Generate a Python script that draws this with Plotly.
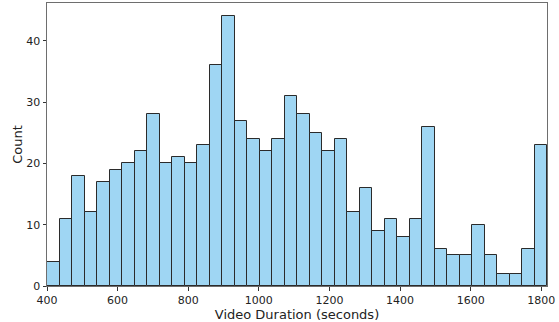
import plotly.graph_objects as go

bin_start = 400.0
bin_width = 35.4
counts = [4, 11, 18, 12, 17, 19, 20, 22, 28, 20,
          21, 20, 23, 36, 44, 27, 24, 22, 24, 31,
          28, 25, 22, 24, 12, 16, 9, 11, 8, 11,
          26, 6, 5, 5, 10, 5, 2, 2, 6, 23]
x_ticks = [400, 600, 800, 1000, 1200, 1400, 1600, 1800]
y_ticks = [0, 10, 20, 30, 40]

centers = [bin_start + bin_width * (i + 0.5) for i in range(len(counts))]
x_end = bin_start + bin_width * len(counts)

fig = go.Figure(go.Bar(
    x=centers, y=counts, width=bin_width,
    marker=dict(color="#9fd6f3", line=dict(color="#2b2b2b", width=1)),
    hoverinfo="x+y",
))

font_family = "DejaVu Sans"
fig.update_layout(
    width=559, height=322,
    margin=dict(l=47, r=12, t=3, b=36, autoexpand=False),
    paper_bgcolor="white", plot_bgcolor="white",
    showlegend=False, bargap=0,
    font=dict(family=font_family, size=11, color="#222"),
)
fig.update_xaxes(
    range=[bin_start, x_end], tickvals=x_ticks,
    showgrid=False, zeroline=False,
    showline=True, mirror=True, linecolor="#6e6e6e", linewidth=1,
    ticks="outside", ticklen=3.5, tickcolor="#333", tickwidth=1,
    tickfont=dict(size=11), automargin=False,
    title=dict(text="Video Duration (seconds)", font=dict(size=13), standoff=0),
)
fig.update_yaxes(
    range=[0, 46.2], tickvals=y_ticks,
    showgrid=False, zeroline=False,
    showline=True, mirror=True, linecolor="#6e6e6e", linewidth=1,
    ticks="outside", ticklen=3.5, tickcolor="#333", tickwidth=1,
    tickfont=dict(size=11), automargin=False,
    title=dict(text="Count", font=dict(size=13), standoff=0),
)

fig.write_html("out.html", config={"displayModeBar": False},
               post_script="document.body.style.margin='0';")
